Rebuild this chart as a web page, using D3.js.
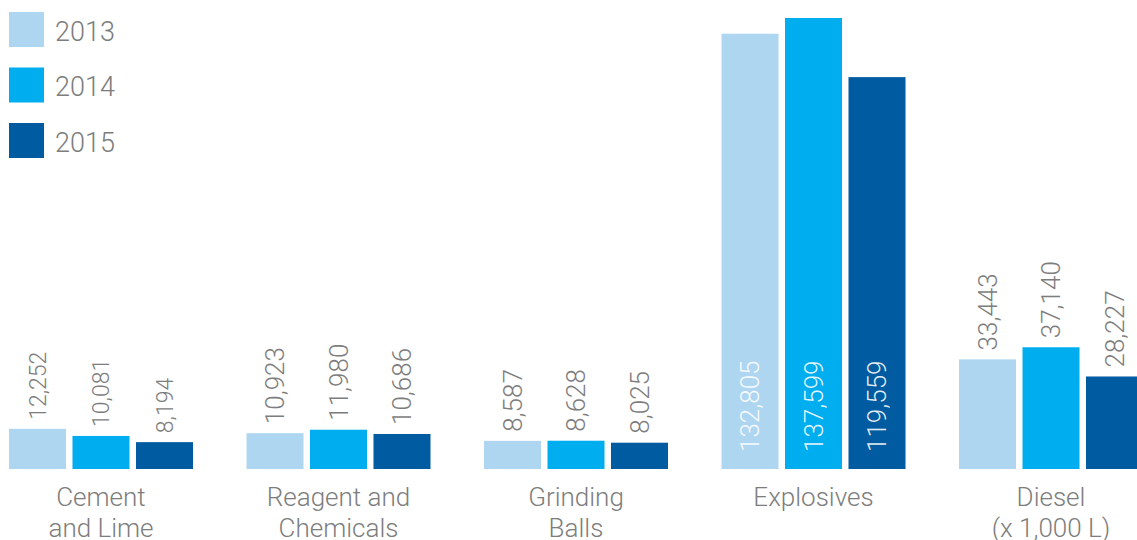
<!DOCTYPE html>
<html>
<head>
<meta charset="utf-8">
<script src="https://cdn.jsdelivr.net/npm/d3@7"></script>
<style>
  html, body { margin: 0; padding: 0; background: #fff; }
  svg { display: block; font-family: Roboto, "Noto Sans", sans-serif; font-weight: 300; }
</style>
</head>
<body>
<svg id="chart" width="1137" height="540"></svg>
<script>
// Consumption of key supplies by year
const categories = [
  ["Cement", "and Lime"],
  ["Reagent and", "Chemicals"],
  ["Grinding", "Balls"],
  ["Explosives"],
  ["Diesel", "(x 1,000 L)"]
];
const years = ["2013", "2014", "2015"];
const values2013 = [12252, 10923, 8587, 132805, 33443];
const values2014 = [10081, 11980, 8628, 137599, 37140];
const values2015 = [8194, 10686, 8025, 119559, 28227];
const seriesValues = [values2013, values2014, values2015];
const colors = ["#aed6f1", "#00aeef", "#005ba1"];

const svg = d3.select("#chart");
const baseline = 469;
const textGray = "#7d7d7d";

const catIndex = d3.range(categories.length);
const x0 = d3.scaleBand().domain(catIndex).range([9, 1143]).paddingInner(0.2253).paddingOuter(0);
const x1 = d3.scaleBand().domain(years).range([0, x0.bandwidth()]).paddingInner(0.102);
const y = d3.scaleLinear().domain([0, 137599]).range([baseline, 18]);
const color = d3.scaleOrdinal().domain(years).range(colors);
const fmt = d3.format(",");

const rows = catIndex.map(i => ({
  i,
  bars: years.map((yr, k) => ({ i, year: yr, value: seriesValues[k][i] }))
}));

const groups = svg.selectAll("g.group").data(rows).join("g")
  .attr("class", "group")
  .attr("transform", d => `translate(${x0(d.i)},0)`);

groups.selectAll("rect").data(d => d.bars).join("rect")
  .attr("x", d => x1(d.year))
  .attr("y", d => y(d.value))
  .attr("width", x1.bandwidth())
  .attr("height", d => baseline - y(d.value))
  .attr("fill", d => color(d.year));

// Value labels: rotated, above the bar, or inside it for the tall explosive bars
const insideLimit = 100000;
groups.selectAll("text.value").data(d => d.bars).join("text")
  .attr("class", "value")
  .each(function(d) {
    const fs = d.i === 0 ? 23 : 26;
    const cx = x1(d.year) + x1.bandwidth() / 2 + fs * 0.355;
    const inside = d.value > insideLimit;
    const yy = inside ? baseline - 17 : y(d.value) - 9;
    d3.select(this)
      .attr("transform", `translate(${cx},${yy}) rotate(-90)`)
      .attr("text-anchor", "start")
      .attr("font-size", fs)
      .attr("fill", inside ? "#ffffff" : textGray)
      .attr("fill-opacity", inside ? 0.9 : 1)
      .text(fmt(d.value));
  });

// Category labels below the baseline
groups.append("text")
  .attr("class", "cat")
  .attr("x", x0.bandwidth() / 2)
  .attr("y", 506)
  .attr("text-anchor", "middle")
  .attr("font-size", 26)
  .attr("fill", textGray)
  .selectAll("tspan").data(d => categories[d.i]).join("tspan")
  .attr("x", x0.bandwidth() / 2)
  .attr("dy", (d, k) => k === 0 ? 0 : 31)
  .text(d => d);

// Legend
const legend = svg.append("g").attr("class", "legend");
const items = legend.selectAll("g").data(years).join("g")
  .attr("transform", (d, k) => `translate(9,${12 + k * 55.5})`);
items.append("rect")
  .attr("width", 35).attr("height", 35)
  .attr("fill", d => color(d));
items.append("text")
  .attr("x", 46).attr("y", 28.5)
  .attr("font-size", 27)
  .attr("fill", textGray)
  .text(d => d);
</script>
</body>
</html>
